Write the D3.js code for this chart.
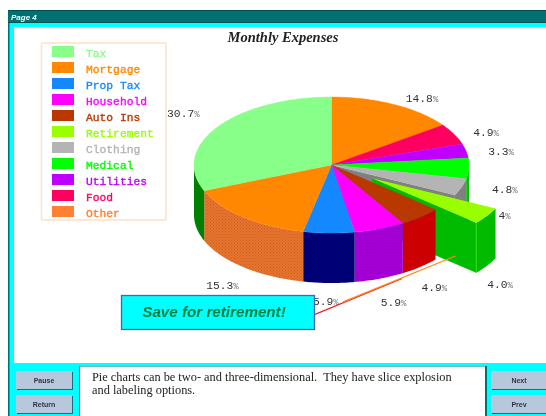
<!DOCTYPE html>
<html>
<head>
<meta charset="utf-8">
<script src="https://cdn.jsdelivr.net/npm/d3@7"></script>
<style>
  html, body { margin: 0; padding: 0; background: #fff; overflow: hidden; }
  svg { display: block; filter: blur(0.45px); }
</style>
</head>
<body>
<script>
// Chart data, in legend order
const categories = ['Tax', 'Mortgage', 'Prop Tax', 'Household', 'Auto Ins', 'Retirement', 'Clothing', 'Medical', 'Utilities', 'Food', 'Other'];
const values = [30.7, 15.3, 5.9, 5.9, 4.9, 4.0, 4.0, 4.8, 3.3, 4.9, 14.8];
const valueLabels = ['30.7', '15.3', '5.9', '5.9', '4.9', '4.0', '4', '4.8', '3.3', '4.9', '14.8'];
const legendColors = ['#88ff88', '#ff8800', '#1488ff', '#ff00ff', '#b83800', '#99ff00', '#b4b4b4', '#00ff00', '#c000ff', '#ff0060', '#ff8030'];
const topColors = ['#88ff88', '#ff8800', '#1488ff', '#ff00ff', '#b83800', '#99ff00', '#b4b4b4', '#00ff00', '#c000ff', '#ff0060', '#ff8800'];
const wallColors = ['#008000', 'url(#dotOrange)', 'url(#dotNavy)', 'url(#dotPurple)', '#cc0000', '#00bb00', '#808080', '#00c000', '#8000b0', '#b00040', '#c06000'];
const explodedName = 'Retirement';

// Label nudges from the rim point of each slice, same order as categories
const labelNudge = [[-34, -14], [-21, 68], [-3, 68], [14, 73], [14, 70], [54, 81], [43, 28], [36, 21], [35, 0], [32, -2], [28, -6]];

const width = 546, height = 416;
const cx = 331.5, cy = 165, rx = 137.5, ry = 68, depth = 50, explode = 0.355;

const svg = d3.select('body').append('svg').attr('width', width).attr('height', height);

const defs = svg.append('defs');
function dotPattern(id, base, dot) {
    const p = defs.append('pattern').attr('id', id).attr('width', 3).attr('height', 3).attr('patternUnits', 'userSpaceOnUse');
    p.append('rect').attr('width', 3).attr('height', 3).attr('fill', base);
    p.append('rect').attr('width', 1).attr('height', 1).attr('fill', dot);
    p.append('rect').attr('x', 1.5).attr('y', 1.5).attr('width', 1).attr('height', 1).attr('fill', dot);
}
dotPattern('dotOrange', '#e8742c', '#c8602c');
dotPattern('dotNavy', '#00007c', '#000060');
dotPattern('dotPurple', '#a800d8', '#9000c0');

// Window frame
svg.append('rect').attr('x', 8).attr('y', 10).attr('width', width - 8).attr('height', height - 10).attr('fill', '#00ffff');
svg.append('rect').attr('x', 8).attr('y', 10).attr('width', 1.5).attr('height', height - 10).attr('fill', '#007070');
svg.append('rect').attr('x', 8).attr('y', 10).attr('width', width - 8).attr('height', 13).attr('fill', '#007070');
svg.append('rect').attr('x', 8).attr('y', 10).attr('width', width - 8).attr('height', 1).attr('fill', '#005050');
svg.append('rect').attr('x', 8).attr('y', 22).attr('width', width - 8).attr('height', 1).attr('fill', '#005050');
svg.append('rect').attr('x', 14).attr('y', 27).attr('width', width - 14).attr('height', 336).attr('fill', '#fff');
svg.append('text').attr('x', 11).attr('y', 19.5).text('Page 4')
    .attr('font-family', 'Liberation Sans').attr('font-size', 8).attr('font-weight', 'bold').attr('font-style', 'italic').attr('fill', '#e8ffff');

svg.append('text').attr('x', 283).attr('y', 42).attr('text-anchor', 'middle').text('Monthly Expenses')
    .attr('font-family', 'Liberation Serif').attr('font-size', 14.5).attr('font-weight', 'bold').attr('font-style', 'italic').attr('fill', '#222');

// Legend
const legend = svg.append('g');
legend.append('rect').attr('x', 41.5).attr('y', 43).attr('width', 124.5).attr('height', 177)
    .attr('fill', '#fff').attr('stroke', '#ffe0c8').attr('stroke-width', 1.5).attr('rx', 1);
const legendRow = d3.scaleBand().domain(categories).range([46, 46 + 16 * categories.length]);
const rows = legend.selectAll('g').data(categories).enter().append('g')
    .attr('transform', d => `translate(0,${legendRow(d)})`);
rows.append('rect').attr('x', 52).attr('width', 22).attr('height', 11)
    .attr('fill', (d, i) => legendColors[i]);
rows.append('text').attr('x', 86).attr('y', 10.5).text(d => d)
    .attr('font-family', 'Liberation Mono').attr('font-size', 11.3)
    .attr('stroke-width', 0.35)
    .attr('stroke', (d, i) => legendColors[i])
    .attr('fill', (d, i) => legendColors[i]);

// Pie geometry: slices run clockwise from 12 o'clock in reverse legend order
const slices = d3.pie().sort(null).value(i => values[i])(d3.range(categories.length).reverse());
const xScale = d3.scaleLinear().domain([-1, 1]).range([cx - rx, cx + rx]);
const yScale = d3.scaleLinear().domain([-1, 1]).range([cy - ry, cy + ry]);
const lineGen = d3.line();

function rim(a, r, off, z) {
    const o = off || [0, 0];
    return [xScale(r * Math.sin(a) + o[0]), yScale(-r * Math.cos(a) + o[1]) + (z || 0)];
}
function arcPoints(a0, a1, off, z) {
    const n = Math.max(2, Math.ceil((a1 - a0) * 60));
    return d3.range(n + 1).map(k => rim(a0 + (a1 - a0) * k / n, 1, off, z));
}
function topPath(s, off) {
    return lineGen([rim(0, 0, off), ...arcPoints(s.startAngle, s.endAngle, off)]) + 'Z';
}
function wallPath(a0, a1, off) {
    const lo = Math.max(a0, Math.PI / 2), hi = Math.min(a1, 3 * Math.PI / 2);
    if (hi <= lo) return null;
    return lineGen([...arcPoints(lo, hi, off), ...arcPoints(lo, hi, off, depth).reverse()]) + 'Z';
}
function radialPath(a, off) {
    return lineGen([rim(0, 0, off), rim(a, 1, off), rim(a, 1, off, depth), rim(0, 0, off, depth)]) + 'Z';
}

const pieG = svg.append('g');
const explodedIndex = slices.findIndex(s => categories[s.data] === explodedName);
const exploded = slices[explodedIndex];
const backSlices = slices.slice(0, explodedIndex);
const frontSlices = slices.slice(explodedIndex + 1);

function drawSlices(list) {
    list.forEach(s => {
        const w = wallPath(s.startAngle, s.endAngle);
        if (w) pieG.append('path').attr('d', w).attr('fill', wallColors[s.data]);
    });
}
function drawTops(list) {
    list.forEach(s => {
        pieG.append('path').attr('d', topPath(s)).attr('fill', topColors[s.data])
            .attr('stroke', topColors[s.data]).attr('stroke-width', 0.4);
    });
}

// Back part of the pie, with the wall that the notch uncovers
drawSlices(backSlices);
pieG.append('path').attr('d', radialPath(exploded.startAngle)).attr('fill', wallColors[backSlices[backSlices.length - 1].data]);
drawTops(backSlices);

// Exploded slice sits behind the front walls
const midAngle = (exploded.startAngle + exploded.endAngle) / 2;
const offset = [explode * Math.sin(midAngle), -explode * Math.cos(midAngle)];
const exWall = wallColors[exploded.data];
pieG.append('path').attr('d', radialPath(exploded.endAngle, offset)).attr('fill', exWall);
pieG.append('path').attr('d', wallPath(exploded.startAngle, exploded.endAngle, offset)).attr('fill', exWall);
const corner = rim(exploded.endAngle, 1, offset);
pieG.append('line').attr('x1', corner[0]).attr('y1', corner[1]).attr('x2', corner[0]).attr('y2', corner[1] + depth)
    .attr('stroke', '#30e000').attr('stroke-width', 1);
pieG.append('path').attr('d', topPath(exploded, offset)).attr('fill', topColors[exploded.data]);

// Front part of the pie
drawSlices(frontSlices);
drawTops(frontSlices);

// Value labels
const labelG = svg.append('g');
slices.forEach(s => {
    const mid = (s.startAngle + s.endAngle) / 2;
    const p = rim(mid, 1);
    const n = labelNudge[s.data];
    const t = labelG.append('text').attr('x', p[0] + n[0]).attr('y', p[1] + n[1]).attr('dy', '0.35em')
        .attr('text-anchor', 'middle').attr('font-family', 'Liberation Mono').attr('font-size', 11.3).attr('fill', '#333');
    t.append('tspan').text(valueLabels[s.data]);
    t.append('tspan').text('%').attr('font-size', 9).attr('fill', '#777');
});

// Callout with its pointer
const tip = [455.5, 256], tail = [315, 314];
const along = f => [tail[0] + (tip[0] - tail[0]) * f, tail[1] + (tip[1] - tail[1]) * f];
const redEnd = along(0.62), orangeStart = along(0.2);
svg.append('line').attr('x1', tail[0]).attr('y1', tail[1] + 0.4).attr('x2', redEnd[0]).attr('y2', redEnd[1] + 0.4)
    .attr('stroke', '#f02020').attr('stroke-width', 1.2);
svg.append('line').attr('x1', orangeStart[0]).attr('y1', orangeStart[1] - 0.5).attr('x2', tip[0]).attr('y2', tip[1])
    .attr('stroke', '#ff8820').attr('stroke-width', 1.3);
svg.append('rect').attr('x', 121.5).attr('y', 295.5).attr('width', 193).attr('height', 34)
    .attr('fill', '#00ffff').attr('stroke', '#5060b8').attr('stroke-width', 1.3);
svg.append('text').attr('x', 214).attr('y', 317).attr('text-anchor', 'middle').text('Save for retirement!')
    .attr('font-family', 'Liberation Sans').attr('font-size', 15.2).attr('font-weight', 'bold').attr('font-style', 'italic').attr('fill', '#008040');

// Bottom panel
svg.append('rect').attr('x', 80).attr('y', 366).attr('width', 405).attr('height', 50).attr('fill', '#fff');
svg.append('rect').attr('x', 80).attr('y', 366).attr('width', 405).attr('height', 0.7).attr('fill', '#30a0a8');
svg.append('rect').attr('x', 79).attr('y', 366).attr('width', 1).attr('height', 50).attr('fill', '#30a0a8');
svg.append('rect').attr('x', 485).attr('y', 366).attr('width', 2).attr('height', 50).attr('fill', '#007070');
const noteG = svg.append('g').attr('font-family', 'Liberation Serif').attr('font-size', 12.35).attr('fill', '#222');
noteG.append('text').attr('x', 92).attr('y', 381).text('Pie charts can be two- and three-dimensional.  They have slice explosion').attr('xml:space', 'preserve');
noteG.append('text').attr('x', 92).attr('y', 394).text('and labeling options.');

function button(x, y, w, label) {
    svg.append('rect').attr('x', x + 1).attr('y', y + 1).attr('width', w).attr('height', 18).attr('fill', '#1c6c80');
    svg.append('rect').attr('x', x).attr('y', y).attr('width', w).attr('height', 18).attr('fill', '#b8c8dc');
    svg.append('text').attr('x', x + w / 2).attr('y', y + 12).attr('text-anchor', 'middle').text(label)
        .attr('font-family', 'Liberation Sans').attr('font-size', 7).attr('font-weight', 'bold').attr('fill', '#334');
}
button(16, 371, 56, 'Pause');
button(16, 395, 56, 'Return');
button(491, 371, 56, 'Next');
button(491, 395, 56, 'Prev');
</script>
</body>
</html>
